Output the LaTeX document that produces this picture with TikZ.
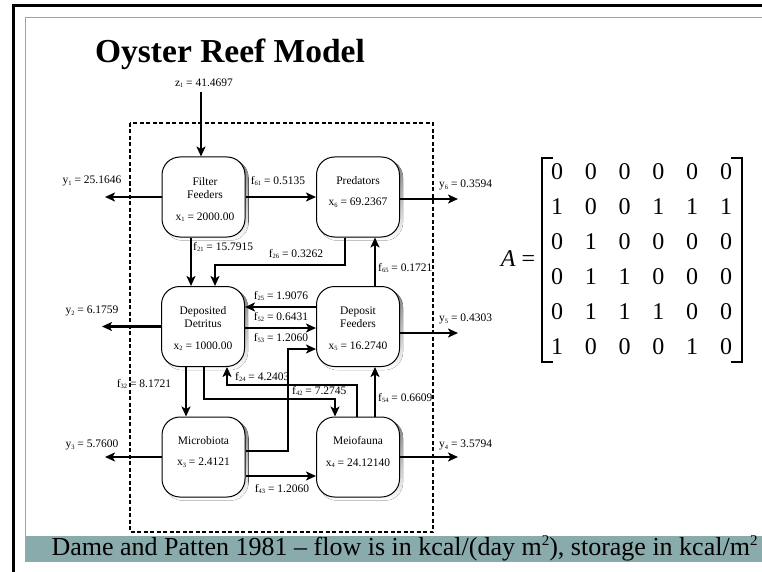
\documentclass[tikz,border=0pt]{standalone}
\usepackage{fontspec}
\setmainfont{Liberation Serif}
\usetikzlibrary{arrows.meta,backgrounds}
\definecolor{slideteal}{RGB}{138,171,171}
\definecolor{shade}{RGB}{125,125,125}
% small indices for the flow and storage labels
\newcommand\lsub[1]{\raisebox{-0.3ex}{\fontsize{6.5}{7}\selectfont #1}}
\newcommand\capsq{\raisebox{0.8ex}{\fontsize{15}{15}\selectfont 2}}
\tikzset{
  compart/.style={draw, line width=1pt, fill=white, rounded corners=18pt,
    minimum width=83pt, minimum height=80pt, inner sep=0pt},
  flow/.style={line width=2.3pt, -{Stealth[length=10pt,width=9pt,inset=2.5pt]}},
  lbl/.style={font=\fontsize{11.5}{12.5}\selectfont, inner sep=0pt},
  boxtxt/.style={font=\fontsize{11.5}{12.5}\selectfont, inner sep=0pt, align=center},
  mfont/.style={font=\fontsize{24}{26}\selectfont, inner sep=0pt},
  sysbound/.style={line width=2pt, dash pattern=on 4pt off 2.5pt},
}
\begin{document}
\begin{tikzpicture}[x=1pt,y=-1pt]
\useasboundingbox (0,0) rectangle (762,572);

% slide frame and caption bar
\draw[line width=3pt] (12,5.5) -- (762,5.5);
\draw[line width=3pt] (13.5,4) -- (13.5,572);
\draw[slideteal, line width=1pt] (25,536) -- (25,17.5) -- (762,17.5);
\fill[slideteal] (25,536) rectangle (762,562);

\node[font=\bfseries\fontsize{33.5}{36}\selectfont, anchor=base, inner sep=0pt]
  (title) at (230,63) {Oyster Reef Model};
\node[font=\fontsize{26}{28}\selectfont, anchor=base, inner sep=0pt]
  (caption) at (404.5,555)
  {Dame and Patten 1981 – flow is in kcal/(day m\capsq), storage in kcal/m\capsq};

% system boundary
\draw[sysbound] (130,123) rectangle (433,532);

% compartments
\node[compart] (ff) at (203.5,197) {};
\node[compart] (pr) at (358,197) {};
\node[compart] (dd) at (203,326.5) {};
\node[compart] (df) at (358,326.5) {};
\node[compart] (mi) at (203.5,457) {};
\node[compart] (me) at (358,457) {};

% drop shadows behind the compartments
\begin{scope}[on background layer]
  \foreach \n in {ff,pr,dd,df,mi,me}
    \fill[shade, rounded corners=18pt]
      ([xshift=3pt,yshift=-3pt]\n.south west) rectangle ([xshift=3pt,yshift=-3pt]\n.north east);
\end{scope}

\node[boxtxt] (ffname) at (205,188) {Filter\\Feeders};
\node[boxtxt] (ffval)  at (205,217) {x\lsub{1} = 2000.00};
\node[boxtxt] (prname) at (358,181) {Predators};
\node[boxtxt] (prval)  at (358,203) {x\lsub{6} = 69.2367};
\node[boxtxt] (ddname) at (203,317) {Deposited\\Detritus};
\node[boxtxt] (ddval)  at (203,346) {x\lsub{2} = 1000.00};
\node[boxtxt] (dfname) at (358,317) {Deposit\\Feeders};
\node[boxtxt] (dfval)  at (358,346) {x\lsub{5} = 16.2740};
\node[boxtxt] (miname) at (203.5,441) {Microbiota};
\node[boxtxt] (mival)  at (203.5,463) {x\lsub{3} = 2.4121};
\node[boxtxt] (mename) at (358,441) {Meiofauna};
\node[boxtxt] (meval)  at (358,463) {x\lsub{4} = 24.12140};

% free ends of imports and exports
\coordinate (z1top) at (201,92);
\coordinate (y1end) at (105,197);
\coordinate (y2end) at (102,326.5);
\coordinate (y3end) at (105,457);
\coordinate (y6end) at (458,199);
\coordinate (y5end) at (458,333);
\coordinate (y4end) at (458,457);

\draw[flow] (z1top) -- (ff.north -| z1top);
\draw[flow] (ff.west) -- (y1end);
\draw[flow] (dd.west) -- (y2end);
\draw[flow] (mi.west) -- (y3end);
\draw[flow] (pr.east |- y6end) -- (y6end);
\draw[flow] (df.east |- y5end) -- (y5end);
\draw[flow] (me.east |- y4end) -- (y4end);

\node[lbl] (lz1) at (204,83) {z\lsub{1} = 41.4697};
\node[lbl] (ly1) at (92,181) {y\lsub{1} = 25.1646};
\node[lbl] (ly2) at (92,311) {y\lsub{2} = 6.1759};
\node[lbl] (ly3) at (92,445) {y\lsub{3} = 5.7600};
\node[lbl, anchor=west] (ly6) at (439,185) {y\lsub{6} = 0.3594};
\node[lbl, anchor=west] (ly5) at (439,319) {y\lsub{5} = 0.4303};
\node[lbl, anchor=west] (ly4) at (439,445) {y\lsub{4} = 3.5794};

% internal flows
\draw[flow] (ff.east) -- (pr.west);
\draw[flow] (ff.south -| 191,0) -- (dd.north -| 191,0);
\draw[flow] (pr.south -| 345,0) -- (345,265) -- (215,265) -- (dd.north -| 215,0);
\draw[flow] (df.north -| 375,0) -- (pr.south -| 375,0);
\draw[flow] (df.west |- 0,307) -- (dd.east |- 0,307);
\draw[flow] (dd.east |- 0,328) -- (df.west |- 0,328);
\draw[flow] (mi.east |- 0,451) -- (288,451) -- (288,349) -- (df.west |- 0,349);
\draw[flow] (me.north -| 357,0) -- (357,385) -- (227,385) -- (dd.south -| 227,0);
\draw[flow] (dd.south -| 204,0) -- (204,399) -- (335,399) -- (me.north -| 335,0);
\draw[flow] (dd.south -| 186,0) -- (mi.north -| 186,0);
\draw[flow] (me.north -| 375,0) -- (df.south -| 375,0);
\draw[flow] (mi.east |- 0,476) -- (me.west |- 0,476);

\node[lbl] (lf61) at (278,181) {f\lsub{61} = 0.5135};
\node[lbl, anchor=west] (lf21) at (193,247) {f\lsub{21} = 15.7915};
\node[lbl] (lf26) at (296,254) {f\lsub{26} = 0.3262};
\node[lbl, anchor=west] (lf65) at (378,268) {f\lsub{65} = 0.1721};
\node[lbl] (lf25) at (281,296) {f\lsub{25} = 1.9076};
\node[lbl] (lf52) at (281,317) {f\lsub{52} = 0.6431};
\node[lbl] (lf53) at (281,338) {f\lsub{53} = 1.2060};
\node[lbl, anchor=west] (lf24) at (235,377) {f\lsub{24} = 4.2403};
\node[lbl, anchor=west] (lf42) at (292,391) {f\lsub{42} = 7.2745};
\node[lbl] (lf32) at (144,384) {f\lsub{32} = 8.1721};
\node[lbl, anchor=west] (lf54) at (378,398) {f\lsub{54} = 0.6609};
\node[lbl] (lf43) at (282,489) {f\lsub{43} = 1.2060};

% adjacency matrix
\node[mfont] (Alab) at (518,259) {\textit{A} =};
\foreach \row [count=\r] in {{0,0,0,0,0,0},{1,0,0,1,1,1},{0,1,0,0,0,0},{0,1,1,0,0,0},{0,1,1,1,0,0},{1,0,0,0,1,0}}
  \foreach \v [count=\c] in \row
    \node[mfont] (m-\r-\c) at ({557+33.8*(\c-1)},{172+35*(\r-1)}) {\v};
\draw[line width=1.2pt] (553,158) -- (542,158) -- (542,362) -- (553,362);
\draw[line width=1.2pt] (731,158) -- (742,158) -- (742,362) -- (731,362);
\end{tikzpicture}
\end{document}
